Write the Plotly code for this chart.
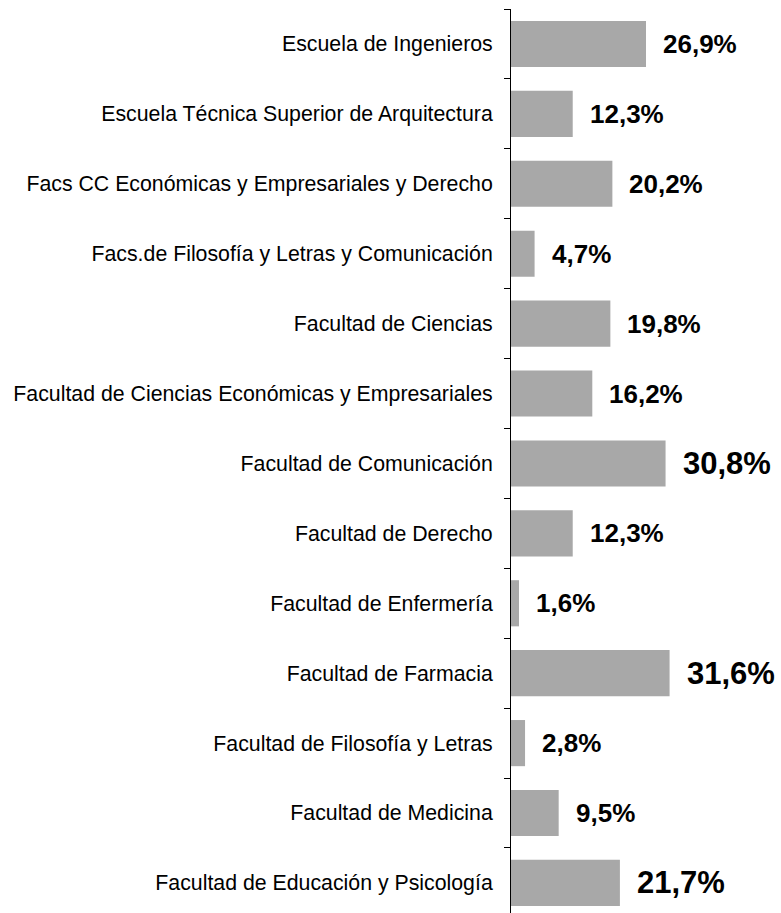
import plotly.graph_objects as go

categories = [
    "Escuela de Ingenieros",
    "Escuela Técnica Superior de Arquitectura",
    "Facs CC Económicas y Empresariales y Derecho",
    "Facs.de Filosofía y Letras y Comunicación",
    "Facultad de Ciencias",
    "Facultad de Ciencias Económicas y Empresariales",
    "Facultad de Comunicación",
    "Facultad de Derecho",
    "Facultad de Enfermería",
    "Facultad de Farmacia",
    "Facultad de Filosofía y Letras",
    "Facultad de Medicina",
    "Facultad de Educación y Psicología",
]
values = [26.9, 12.3, 20.2, 4.7, 19.8, 16.2, 30.8, 12.3, 1.6, 31.6, 2.8, 9.5, 21.7]
label_sizes = [26, 26, 26, 26, 26, 26, 31, 26, 26, 31, 26, 26, 31]

FONT = "Liberation Sans, Arial, sans-serif"

fig = go.Figure(
    go.Bar(
        x=values,
        y=categories,
        orientation="h",
        marker=dict(color="#A8A8A8", line=dict(width=0)),
        width=0.66,
        hoverinfo="skip",
    )
)

for cat, v, s in zip(categories, values, label_sizes):
    fig.add_annotation(
        x=v, y=cat, xref="x", yref="y",
        text="<b>" + f"{v:.1f}".replace(".", ",") + "%</b>",
        showarrow=False, xanchor="left", yanchor="middle", xshift=15,
        font=dict(family=FONT, size=s, color="black"),
    )

fig.update_layout(
    width=781, height=913,
    margin=dict(l=511, r=0, t=9, b=0),
    plot_bgcolor="white", paper_bgcolor="white",
    showlegend=False,
    font=dict(family=FONT, size=21.3, color="black"),
    xaxis=dict(range=[0, 53.8], visible=False, showgrid=False, zeroline=False),
    yaxis=dict(
        type="category",
        range=[len(categories) - 0.57, -0.5],
        showline=True, linecolor="black", linewidth=1,
        ticks="outside", ticklen=6, tickcolor="black", tickwidth=1,
        tickson="boundaries", showgrid=False, zeroline=False,
        ticklabelstandoff=13,
        tickfont=dict(family=FONT, size=21.3, color="black"),
    ),
)

fig.write_html(
    "out.html",
    config={"displayModeBar": False},
    post_script="document.body.style.margin='0';document.body.style.overflow='hidden';",
)
